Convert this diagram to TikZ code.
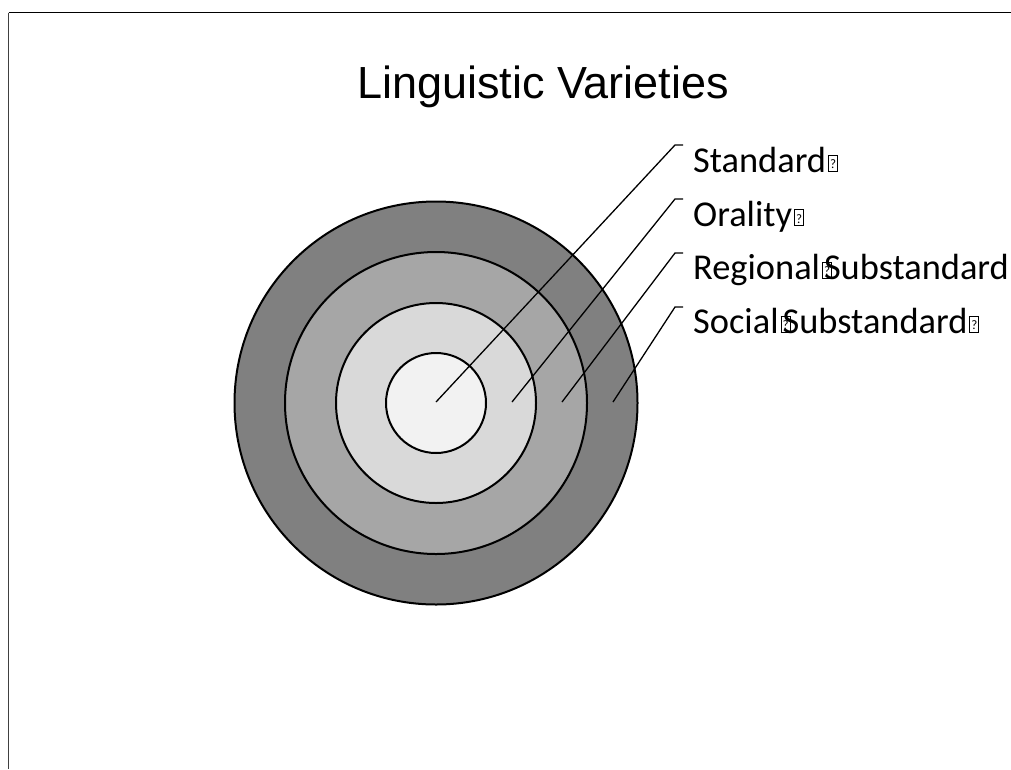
\documentclass[tikz,border=0pt]{standalone}
\usepackage{fontspec}
\setmainfont{Carlito}
\newfontfamily\titlefont{Liberation Sans}
\definecolor{ringOuter}{HTML}{808080}
\definecolor{ringThird}{HTML}{A6A6A6}
\definecolor{ringSecond}{HTML}{D9D9D9}
\definecolor{ringInner}{HTML}{F2F2F2}
\definecolor{frameGrey}{HTML}{404040}
% placeholder box for a glyph the font could not show
\newcommand\tofu{\kern2pt\raisebox{1.5pt}{\fboxsep=0pt\fboxrule=1pt\fbox{\makebox[8pt]{\rule{0pt}{15pt}\raisebox{2pt}{\fontsize{13}{13}\selectfont ?}}}}}
\tikzset{
  ring/.style={circle, draw=black, line width=2pt, inner sep=0pt},
  leader/.style={draw=black, line width=1.3pt},
  lbl/.style={font=\fontsize{36.4}{40}\selectfont, anchor=base west, inner sep=0pt},
}
\begin{document}
\begin{tikzpicture}[x=1pt,y=-1pt]
\useasboundingbox (0,0) rectangle (1011,769);
% page frame
\draw[black, line width=1.1pt] (8.5,12.7) -- (1011,12.7);
\draw[frameGrey, line width=1.3pt] (8.5,12.7) -- (8.5,769);
% title
\node[font=\titlefont\fontsize{45}{54}\selectfont, anchor=base, inner sep=0pt] (title) at (543,98) {Linguistic Varieties};
% concentric rings
\node[ring, fill=ringOuter, minimum size=403pt] (r4) at (436,403) {};
\node[ring, fill=ringThird, minimum size=302pt] (r3) at (436,403) {};
\node[ring, fill=ringSecond, minimum size=200pt] (r2) at (436,403) {};
\node[ring, fill=ringInner, minimum size=100pt] (r1) at (436,403) {};
% labels
\node[lbl] (standard) at (693,172) {Standard\tofu};
\node[lbl] (orality) at (693,226.5) {Orality\tofu};
\node[lbl] (regional) at (693,279) {Regional\tofu\kern-8pt Substandard};
\node[lbl] (social) at (693,333) {Social\tofu\kern-8pt Substandard\tofu};
% leader points
\coordinate (p1) at (436,402);
\coordinate (p2) at (512,402);
\coordinate (p3) at (562,402);
\coordinate (p4) at (613,402);
\coordinate (e1) at (675,145);
\coordinate (e2) at (675,199);
\coordinate (e3) at (675,253);
\coordinate (e4) at (675,307);
\coordinate (t1) at (683,145);
\coordinate (t2) at (683,199);
\coordinate (t3) at (683,253);
\coordinate (t4) at (683,307);
\draw[leader] (p1) -- (e1) -- (t1);
\draw[leader] (p2) -- (e2) -- (t2);
\draw[leader] (p3) -- (e3) -- (t3);
\draw[leader] (p4) -- (e4) -- (t4);
\end{tikzpicture}
\end{document}
